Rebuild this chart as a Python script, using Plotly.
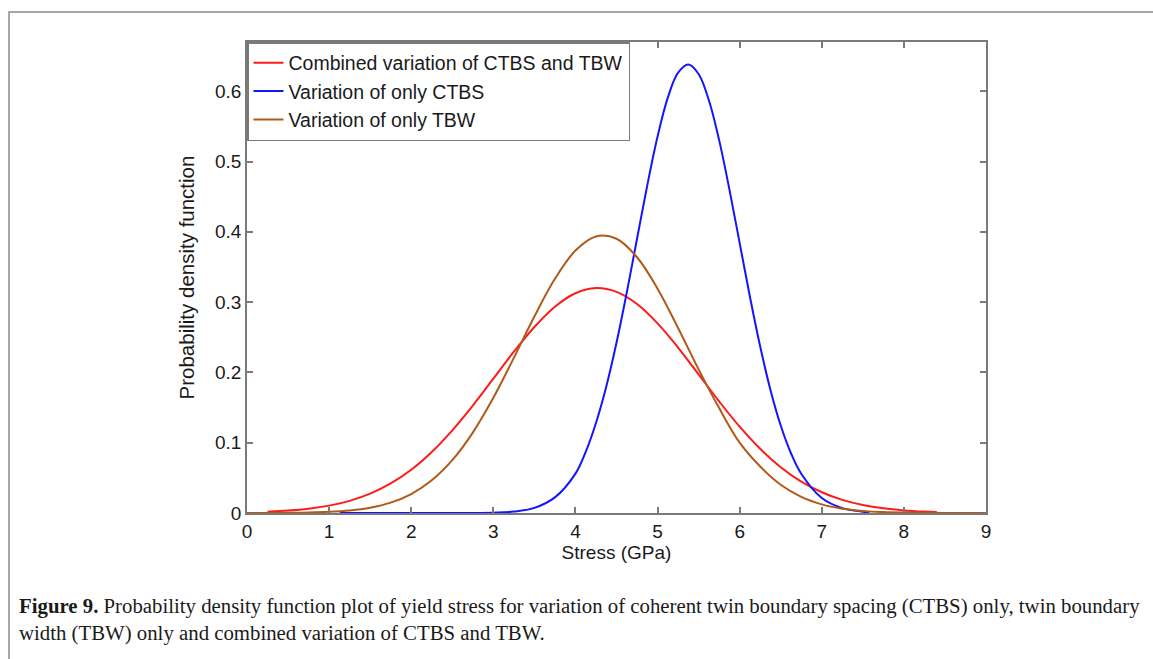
import plotly.graph_objects as go

# ---- data ----
x_combined = [0.25, 0.5, 0.75, 1.0, 1.25, 1.5, 1.75, 2.0, 2.25, 2.5, 2.75, 3.0, 3.25, 3.5, 3.75,
              4.0, 4.25, 4.5, 4.75, 5.0, 5.25, 5.5, 5.75, 6.0, 6.25, 6.5, 6.75, 7.0, 7.25, 7.5,
              7.75, 8.0, 8.25, 8.4]
y_combined = [0.0018, 0.0034, 0.0061, 0.0105, 0.0173, 0.0275, 0.0420, 0.0615, 0.0867, 0.1175,
              0.1528, 0.1910, 0.2294, 0.2646, 0.2935, 0.3126, 0.3200, 0.3146, 0.2973, 0.2698,
              0.2354, 0.1972, 0.1588, 0.1228, 0.0913, 0.0652, 0.0447, 0.0295, 0.0187, 0.0114,
              0.0066, 0.0037, 0.0020, 0.0014]

x_ctbs = [1.13, 1.5, 2.0, 2.5, 3.0, 3.25, 3.5, 3.75, 4.0, 4.125, 4.25, 4.375, 4.5, 4.625, 4.75,
          4.875, 5.0, 5.125, 5.25, 5.375, 5.5, 5.625, 5.75, 5.875, 6.0, 6.125, 6.25, 6.375,
          6.5, 6.625, 6.75, 7.0, 7.25, 7.5, 7.58]
y_ctbs = [0.0, 0.0, 0.0, 0.0, 0.0005, 0.0020, 0.0073, 0.0222, 0.0560, 0.0870, 0.1281, 0.1797,
          0.2421, 0.3135, 0.3901, 0.4663, 0.5355, 0.5909, 0.6263, 0.6380, 0.6244, 0.5871,
          0.5304, 0.4603, 0.3839, 0.3076, 0.2368, 0.1751, 0.1245, 0.0850, 0.0558, 0.0213,
          0.0069, 0.0019, 0.0011]

x_tbw = [0.0, 0.25, 0.5, 0.75, 1.0, 1.25, 1.5, 1.75, 2.0, 2.25, 2.5, 2.75, 3.0, 3.25, 3.5, 3.75,
         4.0, 4.25, 4.5, 4.75, 5.0, 5.25, 5.5, 5.75, 6.0, 6.25, 6.5, 6.75, 7.0, 7.25, 7.5,
         7.75, 8.0, 8.5, 9.0]
y_tbw = [0.0, 0.0001, 0.0003, 0.0007, 0.0017, 0.0037, 0.0076, 0.0148, 0.0270, 0.0465, 0.0752,
         0.1144, 0.1638, 0.2207, 0.2795, 0.3331, 0.3733, 0.3934, 0.3901, 0.3638, 0.3191,
         0.2632, 0.2043, 0.1492, 0.1000, 0.0661, 0.0402, 0.0229, 0.0123, 0.0062, 0.0030,
         0.0013, 0.0006, 0.0001, 0.0]

series_names = ["Combined variation of CTBS and TBW", "Variation of only CTBS", "Variation of only TBW"]
x_ticks = [0, 1, 2, 3, 4, 5, 6, 7, 8, 9]
y_ticks = [0, 0.1, 0.2, 0.3, 0.4, 0.5, 0.6]
y_tick_labels = ["0", "0.1", "0.2", "0.3", "0.4", "0.5", "0.6"]
x_title = "Stress (GPa)"
y_title = "Probability density function"
caption_bold = "Figure 9."
caption_line1 = (" Probability density function plot of yield stress for variation of coherent "
                 "twin boundary spacing (CTBS) only, twin boundary")
caption_line2 = "width (TBW) only and combined variation of CTBS and TBW."

# ---- figure ----
W, H = 1153, 659
L, R, T, B = 247, 986, 42, 513
pw, ph = R - L, B - T


def px_x(p):
    return (p - L) / pw


def px_y(p):
    return (B - p) / ph


colors = ["#ff1a1a", "#1414ff", "#b05a1a"]
fig = go.Figure()
for xs, ys, name, c in zip([x_combined, x_ctbs, x_tbw], [y_combined, y_ctbs, y_tbw], series_names, colors):
    fig.add_trace(go.Scatter(x=xs, y=ys, mode="lines", name=name,
                             line=dict(color=c, width=2, shape="spline", smoothing=1.0)))

axis_color = "#7a7a7a"
font_main = "Liberation Sans, Arial, sans-serif"

fig.update_layout(
    width=W, height=H,
    margin=dict(l=L, r=W - R, t=T, b=H - B, autoexpand=False),
    paper_bgcolor="white", plot_bgcolor="white",
    font=dict(family=font_main, size=18, color="#1a1a1a"),
    showlegend=True,
    legend=dict(x=0, y=1, xanchor="left", yanchor="top", bgcolor="white",
                bordercolor=axis_color, borderwidth=1.5,
                font=dict(family=font_main, size=19.5, color="#1a1a1a"),
                itemwidth=30, tracegroupgap=0),
    xaxis=dict(range=[0, 9], tickvals=x_ticks, ticks="inside", ticklen=6, tickcolor=axis_color,
               tickwidth=1.5, showline=True, linecolor=axis_color, linewidth=1.5, mirror="ticks",
               showgrid=False, zeroline=False, tickfont=dict(size=19),
               title=dict(text=x_title, font=dict(size=19), standoff=0)),
    yaxis=dict(range=[0, 0.67], tickvals=y_ticks, ticktext=y_tick_labels, ticks="inside",
               ticklen=6, tickcolor=axis_color, tickwidth=1.5, showline=True, linecolor=axis_color,
               linewidth=1.5, mirror="ticks", showgrid=False, zeroline=False,
               tickfont=dict(size=19),
               title=dict(text=y_title, font=dict(size=20.5), standoff=15)),
)

# outer frame of the figure panel (top and left edges visible)
fig.add_shape(type="rect", xref="paper", yref="paper",
              x0=px_x(9), x1=px_x(1170), y0=px_y(680), y1=px_y(12),
              line=dict(color="#8a8a8a", width=1.5), fillcolor="rgba(0,0,0,0)", layer="below")

cap_font = dict(family="Liberation Serif, Times New Roman, serif", size=20.8, color="#1a1a1a")
fig.add_annotation(xref="paper", yref="paper", x=px_x(17), y=px_y(606), xanchor="left",
                   yanchor="middle", showarrow=False, align="left", font=cap_font,
                   text="<b>" + caption_bold + "</b>" + caption_line1)
fig.add_annotation(xref="paper", yref="paper", x=px_x(17), y=px_y(633), xanchor="left",
                   yanchor="middle", showarrow=False, align="left", font=cap_font,
                   text=caption_line2)

fig.write_html("out.html")
